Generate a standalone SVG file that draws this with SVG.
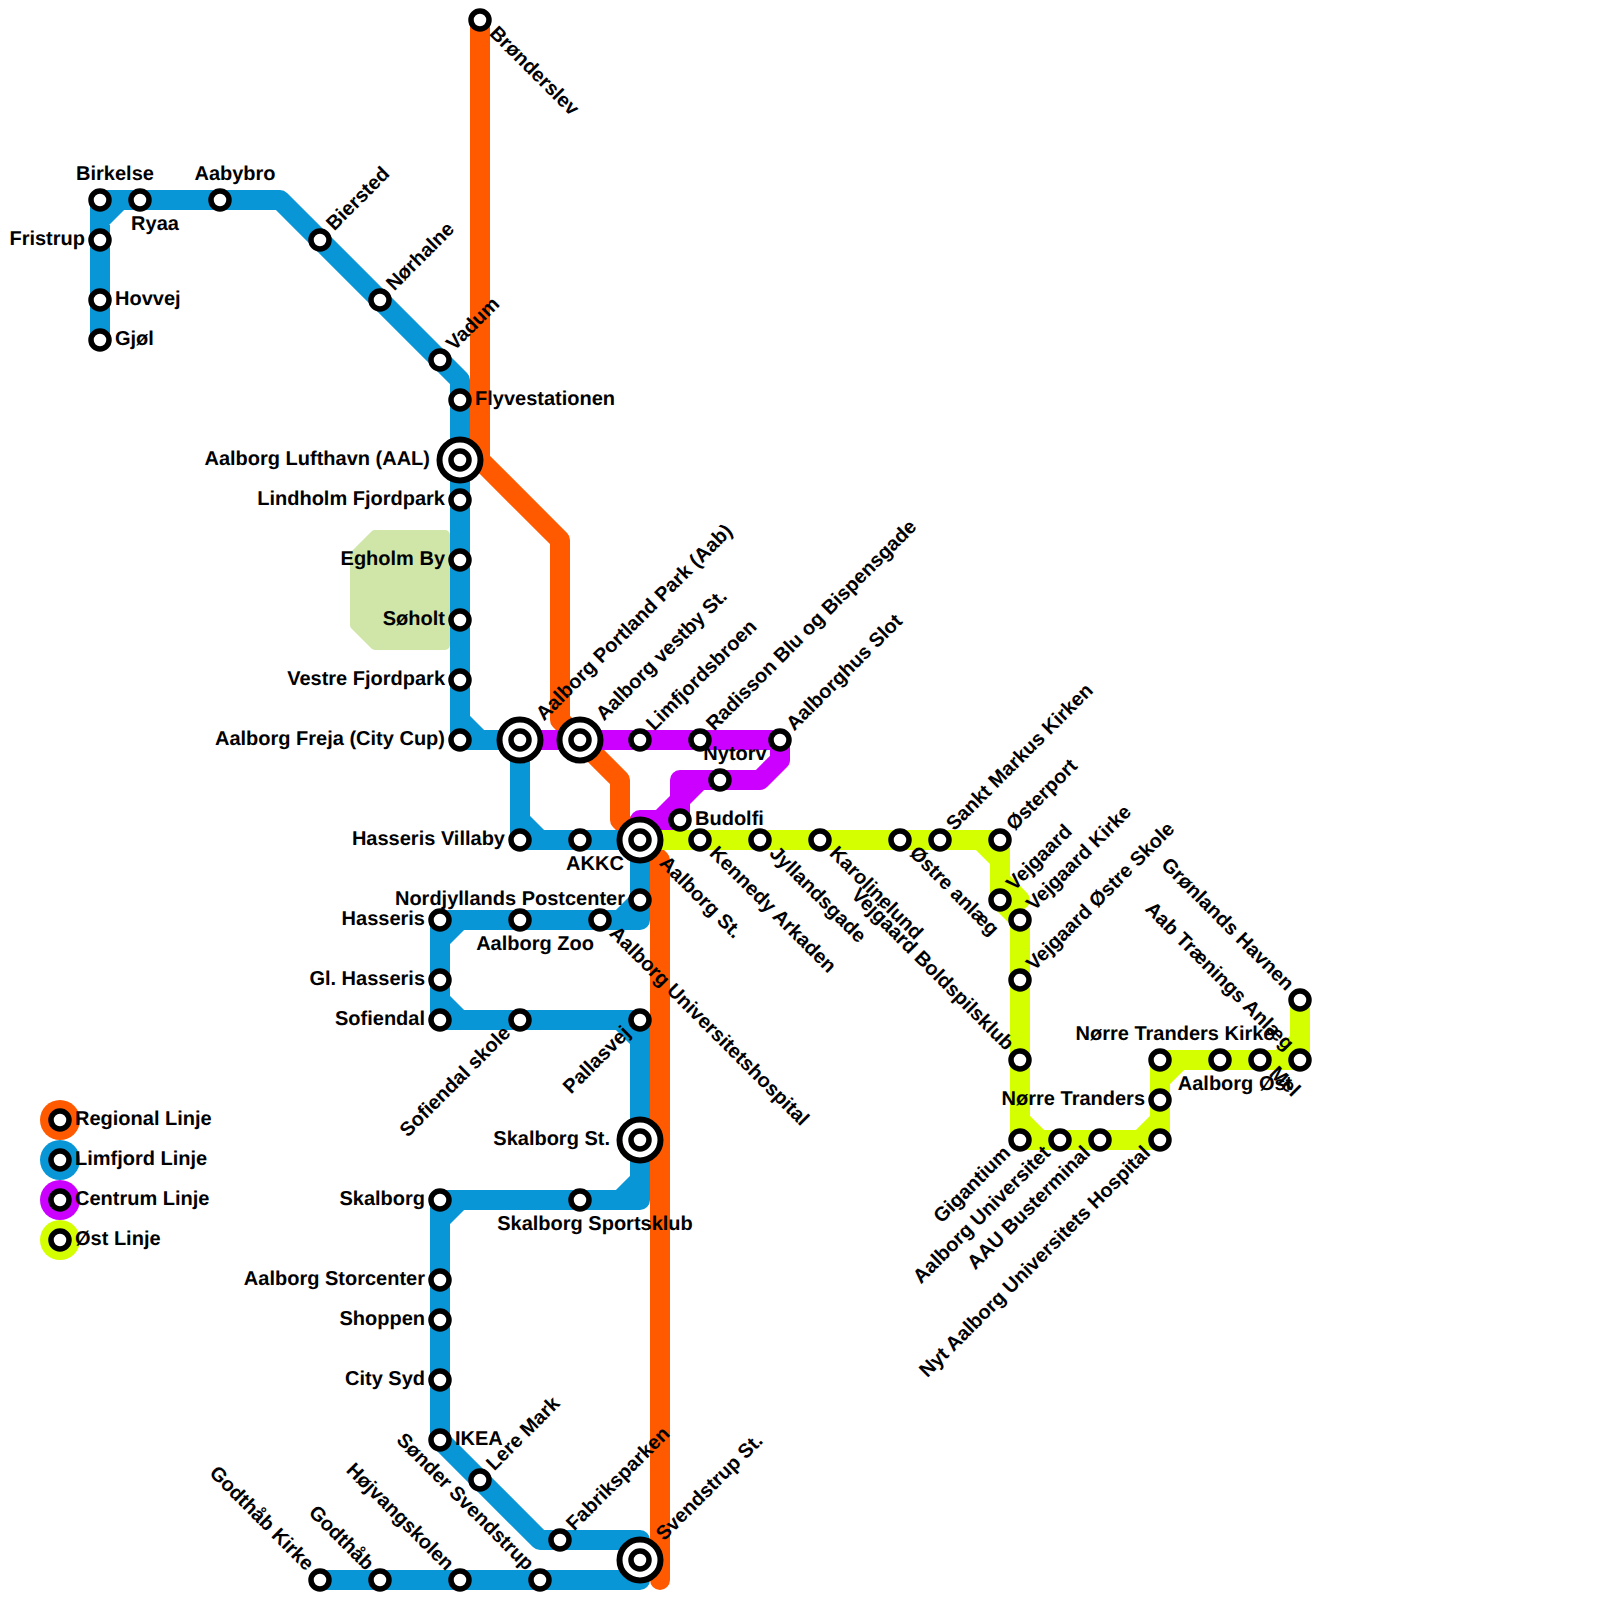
<svg xmlns="http://www.w3.org/2000/svg" width="1600" height="1600" viewBox="0 0 1600 1600">
<style>
text{font-family:"Liberation Sans",Arial,sans-serif;font-weight:bold;font-size:20px;fill:#000;text-rendering:geometricPrecision}
.l{fill:none;stroke-width:20;stroke-linejoin:round;stroke-linecap:round}
.reg{stroke:#ff5a00}.lim{stroke:#0896d7}.cen{stroke:#cc00ff}.ost{stroke:#d4ff00}
.s{fill:#fff;stroke:#000;stroke-width:5.5}
.i{fill:#fff;stroke:#000;stroke-width:6}
.e{text-anchor:end}.m{text-anchor:middle}
</style>
<polygon points="375,535 445,535 445,645 375,645 355,625 355,555" fill="#d0e5a8" stroke="#d0e5a8" stroke-width="10" stroke-linejoin="round"/>
<g id="connectors">
<path class="l reg" d="M480 20V460L560 540V720L620 780V820L660 860V1580"/>
<path class="l lim" d="M100 340V220L120 200M100 220V200H280L460 380V740H520V840H640V920H440V1020H640V1200H440V1440L540 1540H640V1580H320M620 920L640 900M440 940L460 920M440 1000L460 1020M620 1020L640 1040M620 1200L640 1180M440 1220L460 1200M460 720L480 740M520 820L540 840"/>
<path class="l cen" d="M520 740H780V760L760 780H680V820H640V840M700 780L660 820"/>
<path class="l ost" d="M640 840H1000V900L1020 920V1140H1160V1060H1300V1000M980 840L1000 860M1000 880L1020 900M1020 1120L1040 1140M1140 1140L1160 1120M1160 1080L1180 1060M1280 1060L1300 1040"/>
</g>
<g id="legend">
<g id="legend-regional"><circle cx="60" cy="1120" r="20" fill="#ff5a00"/><circle class="s" cx="60" cy="1120" r="9"/><text x="75" y="1125">Regional Linje</text></g>
<g id="legend-limfjord"><circle cx="60" cy="1160" r="20" fill="#0896d7"/><circle class="s" cx="60" cy="1160" r="9"/><text x="75" y="1165">Limfjord Linje</text></g>
<g id="legend-centrum"><circle cx="60" cy="1200" r="20" fill="#cc00ff"/><circle class="s" cx="60" cy="1200" r="9"/><text x="75" y="1205">Centrum Linje</text></g>
<g id="legend-ost"><circle cx="60" cy="1240" r="20" fill="#d4ff00"/><circle class="s" cx="60" cy="1240" r="9"/><text x="75" y="1245">Øst Linje</text></g>
</g>
<g id="n-gjol" transform="translate(100 340)"><circle class="s" r="9"/><text x="15" y="5">Gjøl</text></g>
<g id="n-hovvej" transform="translate(100 300)"><circle class="s" r="9"/><text x="15" y="5">Hovvej</text></g>
<g id="n-fristrup" transform="translate(100 240)"><circle class="s" r="9"/><text class="e" x="-15" y="5">Fristrup</text></g>
<g id="n-birkelse" transform="translate(100 200)"><circle class="s" r="9"/><text class="m" x="15" y="-20">Birkelse</text></g>
<g id="n-ryaa" transform="translate(140 200)"><circle class="s" r="9"/><text class="m" x="15" y="30">Ryaa</text></g>
<g id="n-aabybro" transform="translate(220 200)"><circle class="s" r="9"/><text class="m" x="15" y="-20">Aabybro</text></g>
<g id="n-biersted" transform="translate(320 240)"><circle class="s" r="9"/><text transform="rotate(-45)" x="16" y="4">Biersted</text></g>
<g id="n-norhalne" transform="translate(380 300)"><circle class="s" r="9"/><text transform="rotate(-45)" x="16" y="4">Nørhalne</text></g>
<g id="n-vadum" transform="translate(440 360)"><circle class="s" r="9"/><text transform="rotate(-45)" x="16" y="4">Vadum</text></g>
<g id="n-flyvestationen" transform="translate(460 400)"><circle class="s" r="9"/><text x="15" y="5">Flyvestationen</text></g>
<g id="n-lufthavn" transform="translate(460 460)"><circle class="i" r="20.5"/><circle class="s" r="9"/><text class="e" x="-30" y="5">Aalborg Lufthavn (AAL)</text></g>
<g id="n-lindholm" transform="translate(460 500)"><circle class="s" r="9"/><text class="e" x="-15" y="5">Lindholm Fjordpark</text></g>
<g id="n-egholm" transform="translate(460 560)"><circle class="s" r="9"/><text class="e" x="-15" y="5">Egholm By</text></g>
<g id="n-soholt" transform="translate(460 620)"><circle class="s" r="9"/><text class="e" x="-15" y="5">Søholt</text></g>
<g id="n-vestre" transform="translate(460 680)"><circle class="s" r="9"/><text class="e" x="-15" y="5">Vestre Fjordpark</text></g>
<g id="n-freja" transform="translate(460 740)"><circle class="s" r="9"/><text class="e" x="-15" y="5">Aalborg Freja (City Cup)</text></g>
<g id="n-portland" transform="translate(520 740)"><circle class="i" r="20.5"/><circle class="s" r="9"/><text transform="rotate(-45)" x="30" y="4">Aalborg Portland Park (Aab)</text></g>
<g id="n-vestby" transform="translate(580 740)"><circle class="i" r="20.5"/><circle class="s" r="9"/><text transform="rotate(-45)" x="30" y="4">Aalborg vestby St.</text></g>
<g id="n-limfjordsbroen" transform="translate(640 740)"><circle class="s" r="9"/><text transform="rotate(-45)" x="16" y="4">Limfjordsbroen</text></g>
<g id="n-radisson" transform="translate(700 740)"><circle class="s" r="9"/><text transform="rotate(-45)" x="16" y="4">Radisson Blu og Bispensgade</text></g>
<g id="n-aalborghus" transform="translate(780 740)"><circle class="s" r="9"/><text transform="rotate(-45)" x="16" y="4">Aalborghus Slot</text></g>
<g id="n-nytorv" transform="translate(720 780)"><circle class="s" r="9"/><text class="m" x="15" y="-20">Nytorv</text></g>
<g id="n-budolfi" transform="translate(680 820)"><circle class="s" r="9"/><text x="15" y="5">Budolfi</text></g>
<g id="n-villaby" transform="translate(520 840)"><circle class="s" r="9"/><text class="e" x="-15" y="5">Hasseris Villaby</text></g>
<g id="n-akkc" transform="translate(580 840)"><circle class="s" r="9"/><text class="m" x="15" y="30">AKKC</text></g>
<g id="n-aalborg-st" transform="translate(640 840)"><circle class="i" r="20.5"/><circle class="s" r="9"/><text transform="rotate(45)" x="30" y="4">Aalborg St.</text></g>
<g id="n-kennedy" transform="translate(700 840)"><circle class="s" r="9"/><text transform="rotate(45)" x="16" y="4">Kennedy Arkaden</text></g>
<g id="n-jyllandsgade" transform="translate(760 840)"><circle class="s" r="9"/><text transform="rotate(45)" x="16" y="4">Jyllandsgade</text></g>
<g id="n-karolinelund" transform="translate(820 840)"><circle class="s" r="9"/><text transform="rotate(45)" x="16" y="4">Karolinelund</text></g>
<g id="n-ostre" transform="translate(900 840)"><circle class="s" r="9"/><text transform="rotate(45)" x="16" y="4">Østre anlæg</text></g>
<g id="n-markus" transform="translate(940 840)"><circle class="s" r="9"/><text transform="rotate(-45)" x="16" y="4">Sankt Markus Kirken</text></g>
<g id="n-osterport" transform="translate(1000 840)"><circle class="s" r="9"/><text transform="rotate(-45)" x="16" y="4">Østerport</text></g>
<g id="n-vejgaard" transform="translate(1000 900)"><circle class="s" r="9"/><text transform="rotate(-45)" x="16" y="4">Vejgaard</text></g>
<g id="n-vejgaard-kirke" transform="translate(1020 920)"><circle class="s" r="9"/><text transform="rotate(-45)" x="16" y="4">Vejgaard Kirke</text></g>
<g id="n-vejgaard-skole" transform="translate(1020 980)"><circle class="s" r="9"/><text transform="rotate(-45)" x="16" y="4">Vejgaard Østre Skole</text></g>
<g id="n-boldspilsklub" transform="translate(1020 1060)"><circle class="s" r="9"/><text class="e" transform="rotate(45)" x="-16" y="4">Vejgaard Boldspilsklub</text></g>
<g id="n-gigantium" transform="translate(1020 1140)"><circle class="s" r="9"/><text class="e" transform="rotate(-45)" x="-16" y="4">Gigantium</text></g>
<g id="n-universitet" transform="translate(1060 1140)"><circle class="s" r="9"/><text class="e" transform="rotate(-45)" x="-16" y="4">Aalborg Universitet</text></g>
<g id="n-busterminal" transform="translate(1100 1140)"><circle class="s" r="9"/><text class="e" transform="rotate(-45)" x="-16" y="4">AAU Busterminal</text></g>
<g id="n-nyt-hospital" transform="translate(1160 1140)"><circle class="s" r="9"/><text class="e" transform="rotate(-45)" x="-16" y="4">Nyt Aalborg Universitets Hospital</text></g>
<g id="n-tranders" transform="translate(1160 1100)"><circle class="s" r="9"/><text class="e" x="-15" y="5">Nørre Tranders</text></g>
<g id="n-tranders-kirke" transform="translate(1160 1060)"><circle class="s" r="9"/><text class="m" x="15" y="-20">Nørre Tranders Kirke</text></g>
<g id="n-ost" transform="translate(1220 1060)"><circle class="s" r="9"/><text class="m" x="15" y="30">Aalborg Øst</text></g>
<g id="n-mel" transform="translate(1260 1060)"><circle class="s" r="9"/><text transform="rotate(45)" x="16" y="4">Mel</text></g>
<g id="n-aab" transform="translate(1300 1060)"><circle class="s" r="9"/><text class="e" transform="rotate(45)" x="-16" y="4">Aab Trænings Anlæg</text></g>
<g id="n-gronlands" transform="translate(1300 1000)"><circle class="s" r="9"/><text class="e" transform="rotate(45)" x="-16" y="4">Grønlands Havnen</text></g>
<g id="n-bronderslev" transform="translate(480 20)"><circle class="s" r="9"/><text transform="rotate(45)" x="16" y="4">Brønderslev</text></g>
<g id="n-postcenter" transform="translate(640 900)"><circle class="s" r="9"/><text class="e" x="-15" y="5">Nordjyllands Postcenter</text></g>
<g id="n-hospital" transform="translate(600 920)"><circle class="s" r="9"/><text transform="rotate(45)" x="16" y="4">Aalborg Universitetshospital</text></g>
<g id="n-zoo" transform="translate(520 920)"><circle class="s" r="9"/><text class="m" x="15" y="30">Aalborg Zoo</text></g>
<g id="n-hasseris" transform="translate(440 920)"><circle class="s" r="9"/><text class="e" x="-15" y="5">Hasseris</text></g>
<g id="n-gl-hasseris" transform="translate(440 980)"><circle class="s" r="9"/><text class="e" x="-15" y="5">Gl. Hasseris</text></g>
<g id="n-sofiendal" transform="translate(440 1020)"><circle class="s" r="9"/><text class="e" x="-15" y="5">Sofiendal</text></g>
<g id="n-sofiendal-skole" transform="translate(520 1020)"><circle class="s" r="9"/><text class="e" transform="rotate(-45)" x="-16" y="4">Sofiendal skole</text></g>
<g id="n-pallasvej" transform="translate(640 1020)"><circle class="s" r="9"/><text class="e" transform="rotate(-45)" x="-16" y="4">Pallasvej</text></g>
<g id="n-skalborg-st" transform="translate(640 1140)"><circle class="i" r="20.5"/><circle class="s" r="9"/><text class="e" x="-30" y="5">Skalborg St.</text></g>
<g id="n-sportsklub" transform="translate(580 1200)"><circle class="s" r="9"/><text class="m" x="15" y="30">Skalborg Sportsklub</text></g>
<g id="n-skalborg" transform="translate(440 1200)"><circle class="s" r="9"/><text class="e" x="-15" y="5">Skalborg</text></g>
<g id="n-storcenter" transform="translate(440 1280)"><circle class="s" r="9"/><text class="e" x="-15" y="5">Aalborg Storcenter</text></g>
<g id="n-shoppen" transform="translate(440 1320)"><circle class="s" r="9"/><text class="e" x="-15" y="5">Shoppen</text></g>
<g id="n-city-syd" transform="translate(440 1380)"><circle class="s" r="9"/><text class="e" x="-15" y="5">City Syd</text></g>
<g id="n-ikea" transform="translate(440 1440)"><circle class="s" r="9"/><text x="15" y="5">IKEA</text></g>
<g id="n-lere" transform="translate(480 1480)"><circle class="s" r="9"/><text transform="rotate(-45)" x="16" y="4">Lere Mark</text></g>
<g id="n-fabriksparken" transform="translate(560 1540)"><circle class="s" r="9"/><text transform="rotate(-45)" x="16" y="4">Fabriksparken</text></g>
<g id="n-svendstrup" transform="translate(640 1560)"><circle class="i" r="20.5"/><circle class="s" r="9"/><text transform="rotate(-45)" x="30" y="4">Svendstrup St.</text></g>
<g id="n-sonder" transform="translate(540 1580)"><circle class="s" r="9"/><text class="e" transform="rotate(45)" x="-16" y="4">Sønder Svendstrup</text></g>
<g id="n-hojvang" transform="translate(460 1580)"><circle class="s" r="9"/><text class="e" transform="rotate(45)" x="-16" y="4">Højvangskolen</text></g>
<g id="n-godthab" transform="translate(380 1580)"><circle class="s" r="9"/><text class="e" transform="rotate(45)" x="-16" y="4">Godthåb</text></g>
<g id="n-godthab-kirke" transform="translate(320 1580)"><circle class="s" r="9"/><text class="e" transform="rotate(45)" x="-16" y="4">Godthåb Kirke</text></g>
</svg>
